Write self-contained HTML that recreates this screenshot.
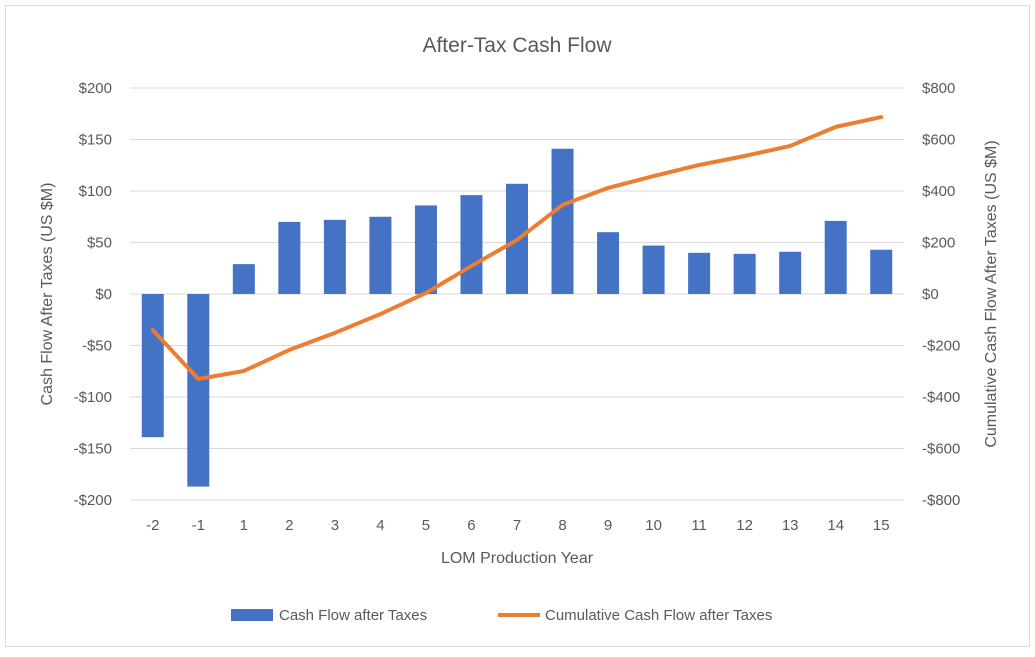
<!DOCTYPE html>
<html><head><meta charset="utf-8"><style>
body{margin:0;background:#fff;font-family:"Liberation Sans",sans-serif}
svg text{font-family:"Liberation Sans",sans-serif;fill:#595959}
</style></head><body>
<svg width="1035" height="652">
<rect x="5.5" y="5.5" width="1024" height="641" fill="#fff" stroke="#d9d9d9"/>
<text x="517" y="52" font-size="21" text-anchor="middle">After-Tax  Cash Flow</text>
<g id="grid"></g><g id="bars"></g><g id="line"></g><g id="axes"></g>
<text transform="translate(52,294) rotate(-90)" font-size="16" text-anchor="middle">Cash Flow After Taxes (US $M)</text>
<text transform="translate(996,294) rotate(-90)" font-size="16" text-anchor="middle">Cumulative Cash Flow After Taxes (US $M)</text>
<text x="517" y="563" font-size="16" text-anchor="middle">LOM Production Year</text>
<g>
<rect x="231" y="609" width="42" height="12" fill="#4472c4"/>
<text x="279" y="620" font-size="15">Cash Flow after Taxes</text>
<line x1="498" y1="615" x2="540" y2="615" stroke="#ed7d31" stroke-width="4"/>
<text x="545" y="620" font-size="15">Cumulative Cash Flow after Taxes</text>
</g>
</svg>
<script>
const categories=["-2","-1","1","2","3","4","5","6","7","8","9","10","11","12","13","14","15"];
const cashFlow=[-139,-187,29,70,72,75,86,96,107,141,60,47,40,39,41,71,43];
const cumulative=[-140,-330,-299,-217,-151,-78,4,109,210,346,412,458,501,536,575,649,687];
const leftTicks=[200,150,100,50,0,-50,-100,-150,-200];
const rightTicks=[800,600,400,200,0,-200,-400,-600,-800];
const NS="http://www.w3.org/2000/svg";
const top_=88,bot=500,left=130,right=904;
const yL=v=>294-v*(bot-top_)/400;
const yR=v=>294-v*(bot-top_)/1600;
const step=(right-left)/categories.length;
const xC=i=>left+step*(i+0.5);
function mk(p,t,a){const e=document.createElementNS(NS,t);for(const k in a)e.setAttribute(k,a[k]);document.getElementById(p).appendChild(e);return e;}
leftTicks.forEach((v,i)=>{
 const g=mk('grid','line',{x1:left,x2:right,y1:yL(v),y2:yL(v),stroke:'#d9d9d9'});
 
 
 const t=mk('axes','text',{x:112,y:yL(v)+5,'font-size':15,'text-anchor':'end'});
 t.textContent=(v<0?'-$':'$')+Math.abs(v);
 
 
});
rightTicks.forEach(v=>{
 const t=mk('axes','text',{x:922,y:yR(v)+5,'font-size':15,'text-anchor':'start'});
 t.textContent=(v<0?'-$':'$')+Math.abs(v);
 
 
});
categories.forEach((c,i)=>{
 const t=mk('axes','text',{x:xC(i),y:530,'font-size':15,'text-anchor':'middle'});
 t.textContent=c;
 
 
 const v=cashFlow[i];
 const b=mk('bars','rect',{x:xC(i)-11,width:22,y:Math.min(yL(v),yL(0)),height:Math.abs(yL(v)-yL(0)),fill:'#4472c4'});
 
 
});
const pts=cumulative.map((v,i)=>xC(i)+','+yR(v)).join(' ');
const pl=mk('line','polyline',{points:pts,fill:'none',stroke:'#ed7d31','stroke-width':4,'stroke-linejoin':'round','stroke-linecap':'round'});


</script>
</body></html>
